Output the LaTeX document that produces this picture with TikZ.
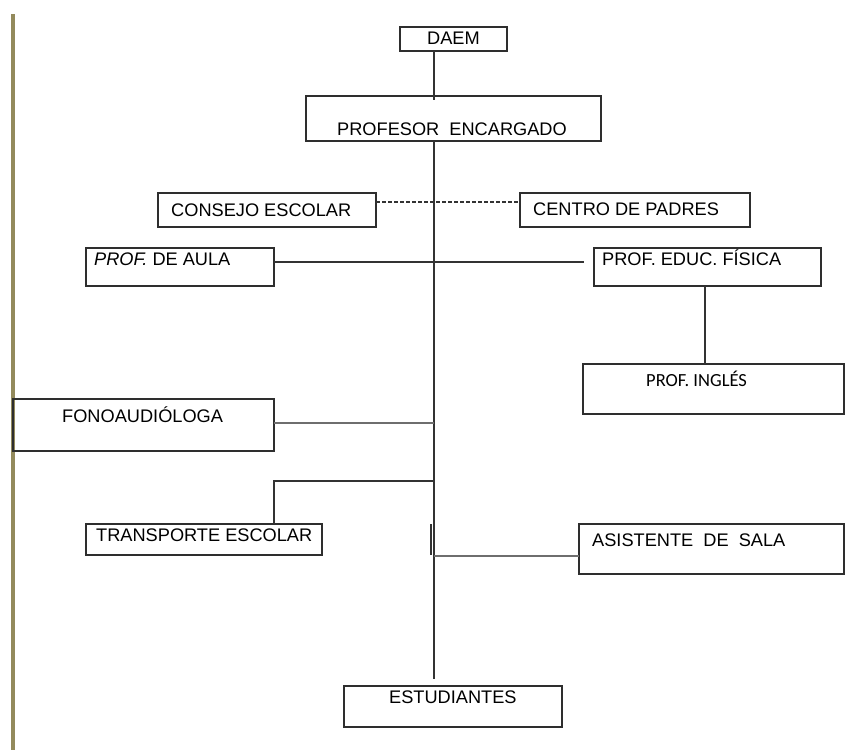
\documentclass[tikz,border=0pt]{standalone}
\usepackage{fontspec}
\setmainfont{Liberation Sans}
\newfontfamily\calib{Carlito}
\definecolor{olivebar}{HTML}{938A5C}
\definecolor{boxline}{HTML}{2E2E2E}
\definecolor{conn}{HTML}{333333}
\definecolor{conngrey}{HTML}{6E6E6E}
\begin{document}
\begin{tikzpicture}[x=1pt,y=-1pt,
  box/.style={draw=boxline, line width=1.3pt, rectangle, inner sep=0pt, outer sep=0pt, anchor=north west},
  txt/.style={inner sep=0pt, anchor=base west, font=\fontsize{18.2}{20}\selectfont, text=black},
  conline/.style={draw=conn, line width=1.3pt},
  greyline/.style={draw=conngrey, line width=2pt}]
\useasboundingbox (0,0) rectangle (866,750);
\fill[olivebar] (10.5,14) rectangle (14.5,750);

% boxes
\node[box, minimum width=107pt, minimum height=24pt] (daem) at (400,27) {};
\node[box, minimum width=295pt, minimum height=45pt] (prof) at (306,96) {};
\node[box, minimum width=218pt, minimum height=34pt] (consejo) at (158,193) {};
\node[box, minimum width=230pt, minimum height=34pt] (centro) at (520,193) {};
\node[box, minimum width=188pt, minimum height=38pt] (aula) at (86,248) {};
\node[box, minimum width=227pt, minimum height=38pt] (fisica) at (594,248) {};
\node[box, minimum width=261pt, minimum height=50pt] (ingles) at (583,364) {};
\node[box, minimum width=261pt, minimum height=52pt] (fono) at (13,399) {};
\node[box, minimum width=236pt, minimum height=31pt] (transp) at (86,524) {};
\node[box, minimum width=265pt, minimum height=50pt] (asist) at (579,524) {};
\node[box, minimum width=218pt, minimum height=41pt] (estud) at (344,686) {};
\draw[boxline, line width=2.2pt] (fisica.south west) -- (fisica.south east);

% texts
\node[txt] (daemT) at (427,44) {DAEM};
\node[txt] (profT) at (337,135) {PROFESOR\ \ ENCARGADO};
\node[txt] (consejoT) at (171,216) {CONSEJO ESCOLAR};
\node[txt] (centroT) at (533,215) {CENTRO DE PADRES};
\node[txt] (aulaT) at (94,265) {\textit{PROF.} DE AULA};
\node[txt] (fisicaT) at (602,265) {PROF. EDUC. FÍSICA};
\node[txt, font=\calib\fontsize{18.5}{20}\selectfont] (inglesT) at (646,386) {PROF. INGLÉS};
\node[txt] (fonoT) at (62,422) {FONOAUDIÓLOGA};
\node[txt] (transpT) at (96,541) {TRANSPORTE ESCOLAR};
\node[txt] (asistT) at (592,546) {ASISTENTE\ \ DE\ \ SALA};
\node[txt] (estudT) at (389,703) {ESTUDIANTES};

% junction coordinates on the trunk
\coordinate (jdaem) at (434,100);
\coordinate (jend) at (434,679);
\coordinate (jfono) at (434,423);
\coordinate (jtr) at (434,481);
\coordinate (jas) at (434,556);

% connectors
\draw[conline] (daem.south -| jdaem) -- (jdaem);
\draw[conline] (prof.south -| jdaem) -- (jend);
\draw[conline, line width=1.6pt, dash pattern=on 4pt off 2pt] (consejo.east |- 0,202) -- (centro.west |- 0,202);
\draw[conline, shorten >=10pt] (aula.east |- 0,262) -- (fisica.west |- 0,262);
\draw[conline] (fisica.south -| 705,0) -- (ingles.north -| 705,0);
\draw[greyline] (fono.east |- jfono) -- (jfono);
\draw[conline] (jtr) -| (transp.north -| 274,0);
\draw[conline, line width=1.6pt] (431,524) -- (431,555);
\draw[greyline, line width=1.6pt] (jas) -- (asist.west |- jas);
\end{tikzpicture}
\end{document}
